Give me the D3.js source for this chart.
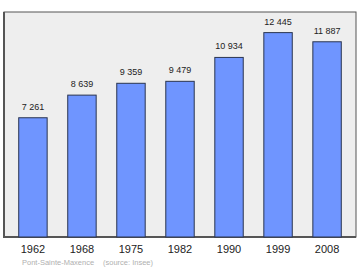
<!DOCTYPE html>
<html>
<head>
<meta charset="utf-8">
<script src="https://cdn.jsdelivr.net/npm/d3@7"></script>
<style>
  body { margin: 0; background: #fff; }
  svg { display: block; font-family: "Liberation Sans", Arial, sans-serif; }
</style>
</head>
<body>
<div id="chart"></div>
<script>
// data
const years = ["1962", "1968", "1975", "1982", "1990", "1999", "2008"]
const population = [7261, 8639, 9359, 9479, 10934, 12445, 11887]
const valueLabels = ["7 261", "8 639", "9 359", "9 479", "10 934", "12 445", "11 887"]

const svgWidth = 360
const svgHeight = 270

// plot frame
const frame = { left: 4, top: 12, right: 356, bottom: 237 }

const svg = d3.select("#chart")
    .append("svg")
    .attr("width", svgWidth)
    .attr("height", svgHeight)

// scales
const x = d3.scaleBand()
    .domain(years)
    .range([frame.left + 0.5, frame.right - 0.5])
    .paddingInner(0.42)
    .paddingOuter(0.29)

const y = d3.scaleLinear()
    .domain([0, 13700])
    .range([frame.bottom, frame.top])

// background + frame
svg.append("rect")
    .attr("x", frame.left)
    .attr("y", frame.top)
    .attr("width", frame.right - frame.left)
    .attr("height", frame.bottom - frame.top)
    .attr("fill", "#eeeeee")
    .attr("stroke", "#555")
    .attr("stroke-width", 1)

// slightly heavier left & bottom edge
svg.append("path")
    .attr("d", `M${frame.left},${frame.top} V${frame.bottom} H${frame.right}`)
    .attr("fill", "none")
    .attr("stroke", "#555")
    .attr("stroke-width", 2)

// bars
svg.append("g")
    .selectAll("rect")
    .data(population)
    .join("rect")
    .attr("x", (d, i) => x(years[i]))
    .attr("y", d => y(d))
    .attr("width", x.bandwidth())
    .attr("height", d => y(0) - y(d))
    .attr("fill", "#6f95ff")
    .attr("stroke", "#2a3550")
    .attr("stroke-width", 1)

// value labels
svg.append("g")
    .selectAll("text")
    .data(population)
    .join("text")
    .attr("x", (d, i) => x(years[i]) + x.bandwidth() / 2)
    .attr("y", d => y(d) - 8)
    .attr("text-anchor", "middle")
    .attr("font-size", 9)
    .attr("fill", "#222")
    .text((d, i) => valueLabels[i])

// x axis labels
svg.append("g")
    .selectAll("text")
    .data(years)
    .join("text")
    .attr("x", d => x(d) + x.bandwidth() / 2)
    .attr("y", 253)
    .attr("text-anchor", "middle")
    .attr("font-size", 11)
    .attr("fill", "#222")
    .text(d => d)

// source line
svg.append("text")
    .attr("x", 22)
    .attr("y", 265)
    .attr("font-size", 7.5)
    .attr("fill", "#b0b0b0")
    .text("Pont-Sainte-Maxence")

svg.append("text")
    .attr("x", 103)
    .attr("y", 265)
    .attr("font-size", 7.5)
    .attr("fill", "#b0b0b0")
    .text("(source: Insee)")
</script>
</body>
</html>
